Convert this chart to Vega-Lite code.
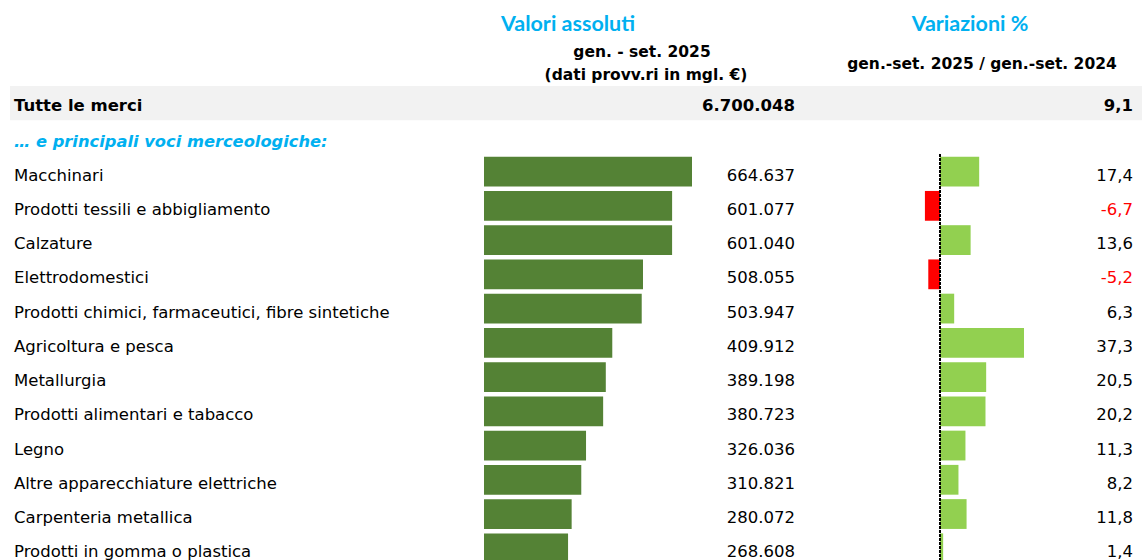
{
  "$schema": "https://vega.github.io/schema/vega-lite/v6.json",
  "width": 1142,
  "height": 560,
  "autosize": "none",
  "padding": 0,
  "background": "white",
  "config": {
    "view": {"stroke": null},
    "axis": {"disable": true},
    "locale": {"number": {"decimal": ",", "thousands": ".", "grouping": [3], "currency": ["", " €"], "minus": "-"}},
    "text": {"font": "DejaVu Sans", "fontSize": 16.5, "color": "#000000"}
  },
  "datasets": {
    "voci": [
      {"voce": "Macchinari", "valore": 664637, "var": 17.4},
      {"voce": "Prodotti tessili e abbigliamento", "valore": 601077, "var": -6.7},
      {"voce": "Calzature", "valore": 601040, "var": 13.6},
      {"voce": "Elettrodomestici", "valore": 508055, "var": -5.2},
      {"voce": "Prodotti chimici, farmaceutici, fibre sintetiche", "valore": 503947, "var": 6.3},
      {"voce": "Agricoltura e pesca", "valore": 409912, "var": 37.3},
      {"voce": "Metallurgia", "valore": 389198, "var": 20.5},
      {"voce": "Prodotti alimentari e tabacco", "valore": 380723, "var": 20.2},
      {"voce": "Legno", "valore": 326036, "var": 11.3},
      {"voce": "Altre apparecchiature elettriche", "valore": 310821, "var": 8.2},
      {"voce": "Carpenteria metallica", "valore": 280072, "var": 11.8},
      {"voce": "Prodotti in gomma o plastica", "valore": 268608, "var": 1.4}
    ],
    "totale": [{"voce": "Tutte le merci", "valore": 6700048, "var": 9.1}],
    "sezione": [{"voce": "… e principali voci merceologiche:"}]
  },
  "encoding": {
    "y": {
      "field": "voce",
      "type": "nominal",
      "axis": null,
      "scale": {
        "domain": ["Tutte le merci", "… e principali voci merceologiche:", "Macchinari", "Prodotti tessili e abbigliamento", "Calzature", "Elettrodomestici", "Prodotti chimici, farmaceutici, fibre sintetiche", "Agricoltura e pesca", "Metallurgia", "Prodotti alimentari e tabacco", "Legno", "Altre apparecchiature elettriche", "Carpenteria metallica", "Prodotti in gomma o plastica"],
        "range": [86, 565.4],
        "paddingInner": 0,
        "paddingOuter": 0
      }
    }
  },
  "layer": [
    {
      "layer": [
        {
          "data": {"name": "totale"},
          "mark": {"type": "rect", "color": "#F2F2F2"},
          "encoding": {
            "x": {"datum": -1514600, "type": "quantitative", "axis": null, "scale": {"domain": [0, 664637], "range": [484, 692], "nice": false, "zero": false}},
            "x2": {"datum": 2110000}
          }
        },
        {
          "data": {"name": "voci"},
          "mark": {"type": "text", "align": "left", "baseline": "alphabetic", "dy": 9},
          "encoding": {
            "x": {"datum": -1501824, "type": "quantitative", "axis": null, "scale": {"domain": [0, 664637], "range": [484, 692], "nice": false, "zero": false}},
            "text": {"field": "voce"}
          }
        },
        {
          "data": {"name": "sezione"},
          "mark": {"type": "text", "align": "left", "baseline": "alphabetic", "dy": 9.3, "fontWeight": "bold", "fontStyle": "italic", "fontSize": 16.3, "color": "#00B0F0"},
          "encoding": {
            "x": {"datum": -1501824, "type": "quantitative", "axis": null, "scale": {"domain": [0, 664637], "range": [484, 692], "nice": false, "zero": false}},
            "text": {"field": "voce"}
          }
        },
        {
          "data": {"name": "totale"},
          "mark": {"type": "text", "align": "left", "baseline": "alphabetic", "dy": 8, "fontWeight": "bold"},
          "encoding": {
            "x": {"datum": -1501824, "type": "quantitative", "axis": null, "scale": {"domain": [0, 664637], "range": [484, 692], "nice": false, "zero": false}},
            "text": {"field": "voce"}
          }
        },
        {
          "data": {"name": "totale"},
          "mark": {"type": "text", "align": "right", "baseline": "alphabetic", "dy": 7.6, "fontWeight": "bold"},
          "encoding": {
            "x": {"datum": 993760, "type": "quantitative", "axis": null, "scale": {"domain": [0, 664637], "range": [484, 692], "nice": false, "zero": false}},
            "text": {"field": "valore", "type": "quantitative", "format": ",.0f"}
          }
        },
        {
          "data": {"name": "voci"},
          "mark": {"type": "bar", "color": "#548235", "height": {"band": 0.87}},
          "encoding": {
            "x": {"field": "valore", "type": "quantitative", "axis": null, "scale": {"domain": [0, 664637], "range": [484, 692], "nice": false, "zero": false}}
          }
        },
        {
          "data": {"name": "voci"},
          "mark": {"type": "text", "align": "right", "baseline": "alphabetic", "dy": 9},
          "encoding": {
            "x": {"datum": 993760, "type": "quantitative", "axis": null, "scale": {"domain": [0, 664637], "range": [484, 692], "nice": false, "zero": false}},
            "text": {"field": "valore", "type": "quantitative", "format": ",.0f"}
          }
        },
        {
          "data": {"values": [{"t": "Valori assoluti"}]},
          "mark": {"type": "text", "align": "center", "baseline": "alphabetic", "dy": -72, "font": "Lato", "fontWeight": "bold", "fontSize": 21.5, "color": "#00B0F0"},
          "encoding": {
            "x": {"datum": 268411, "type": "quantitative", "axis": null, "scale": {"domain": [0, 664637], "range": [484, 692], "nice": false, "zero": false}},
            "y": {"datum": "Tutte le merci", "type": "nominal"},
            "text": {"field": "t"}
          }
        },
        {
          "data": {"values": [{"t": "gen. - set. 2025"}]},
          "mark": {"type": "text", "align": "center", "baseline": "alphabetic", "dy": -46, "fontWeight": "bold", "fontSize": 15.5},
          "encoding": {
            "x": {"datum": 504868, "type": "quantitative", "axis": null, "scale": {"domain": [0, 664637], "range": [484, 692], "nice": false, "zero": false}},
            "y": {"datum": "Tutte le merci", "type": "nominal"},
            "text": {"field": "t"}
          }
        },
        {
          "data": {"values": [{"t": "(dati provv.ri in mgl. €)"}]},
          "mark": {"type": "text", "align": "center", "baseline": "alphabetic", "dy": -23, "fontWeight": "bold", "fontSize": 15.5},
          "encoding": {
            "x": {"datum": 517650, "type": "quantitative", "axis": null, "scale": {"domain": [0, 664637], "range": [484, 692], "nice": false, "zero": false}},
            "y": {"datum": "Tutte le merci", "type": "nominal"},
            "text": {"field": "t"}
          }
        }
      ]
    },
    {
      "layer": [
        {
          "data": {"name": "voci"},
          "mark": {"type": "bar", "height": {"band": 0.87}},
          "encoding": {
            "x": {"field": "var", "type": "quantitative", "axis": null, "scale": {"domain": [0, 37.3], "range": [940, 1024], "nice": false, "zero": false}},
            "color": {"condition": {"test": "datum['var'] < 0", "value": "#FF0000"}, "value": "#92D050"}
          }
        },
        {
          "data": {"name": "voci"},
          "mark": {"type": "rule", "color": "#000000", "strokeDash": [2, 2], "strokeWidth": 1.5},
          "encoding": {
            "x": {"datum": 0, "type": "quantitative", "axis": null, "scale": {"domain": [0, 37.3], "range": [940, 1024], "nice": false, "zero": false}},
            "y": {"datum": "Macchinari", "type": "nominal", "bandPosition": 0},
            "y2": {"datum": "Prodotti in gomma o plastica", "bandPosition": 1}
          }
        },
        {
          "data": {"name": "voci"},
          "mark": {"type": "text", "align": "right", "baseline": "alphabetic", "dy": 9},
          "encoding": {
            "x": {"datum": 85.7, "type": "quantitative", "axis": null, "scale": {"domain": [0, 37.3], "range": [940, 1024], "nice": false, "zero": false}},
            "text": {"field": "var", "type": "quantitative", "format": ".1f"},
            "color": {"condition": {"test": "datum['var'] < 0", "value": "#FF0000"}, "value": "#000000"}
          }
        },
        {
          "data": {"name": "totale"},
          "mark": {"type": "text", "align": "right", "baseline": "alphabetic", "dy": 7.6, "fontWeight": "bold"},
          "encoding": {
            "x": {"datum": 85.7, "type": "quantitative", "axis": null, "scale": {"domain": [0, 37.3], "range": [940, 1024], "nice": false, "zero": false}},
            "text": {"field": "var", "type": "quantitative", "format": ".1f"}
          }
        },
        {
          "data": {"values": [{"t": "Variazioni %"}]},
          "mark": {"type": "text", "align": "center", "baseline": "alphabetic", "dy": -72, "font": "Lato", "fontWeight": "bold", "fontSize": 21.5, "color": "#00B0F0"},
          "encoding": {
            "x": {"datum": 13.32, "type": "quantitative", "axis": null, "scale": {"domain": [0, 37.3], "range": [940, 1024], "nice": false, "zero": false}},
            "y": {"datum": "Tutte le merci", "type": "nominal"},
            "text": {"field": "t"}
          }
        },
        {
          "data": {"values": [{"t": "gen.-set. 2025 / gen.-set. 2024"}]},
          "mark": {"type": "text", "align": "center", "baseline": "alphabetic", "dy": -34, "fontWeight": "bold", "fontSize": 15.5},
          "encoding": {
            "x": {"datum": 18.65, "type": "quantitative", "axis": null, "scale": {"domain": [0, 37.3], "range": [940, 1024], "nice": false, "zero": false}},
            "y": {"datum": "Tutte le merci", "type": "nominal"},
            "text": {"field": "t"}
          }
        }
      ]
    }
  ],
  "resolve": {"scale": {"x": "independent"}}
}
